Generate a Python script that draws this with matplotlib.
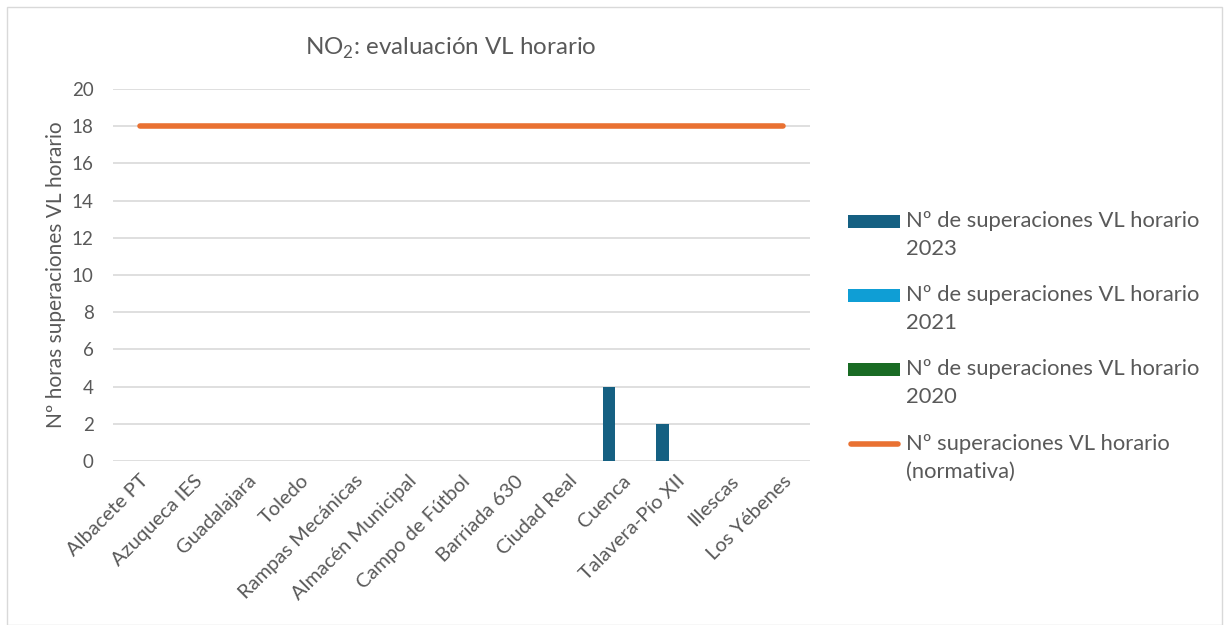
import matplotlib
matplotlib.use("Agg")
import matplotlib.pyplot as plt
from matplotlib.patches import Patch, Rectangle
from matplotlib.lines import Line2D
from matplotlib.legend_handler import HandlerBase
import numpy as np

plt.rcParams["font.family"] = ["Lato", "DejaVu Sans"]
plt.rcParams["mathtext.fontset"] = "custom"
plt.rcParams["mathtext.rm"] = "Lato"

stations = [
    "Albacete PT", "Azuqueca IES", "Guadalajara", "Toledo",
    "Rampas Mecánicas", "Almacén Municipal", "Campo de Fútbol",
    "Barriada 630", "Ciudad Real", "Cuenca", "Talavera-Pío XII",
    "Illescas", "Los Yébenes",
]
exc_2023 = [0, 0, 0, 0, 0, 0, 0, 0, 0, 4, 2, 0, 0]
exc_2021 = [0, 0, 0, 0, 0, 0, 0, 0, 0, 0, 0, 0, 0]
exc_2020 = [0, 0, 0, 0, 0, 0, 0, 0, 0, 0, 0, 0, 0]
limit = [18] * 13

labels = [
    "Nº de superaciones VL horario\n2023",
    "Nº de superaciones VL horario\n2021",
    "Nº de superaciones VL horario\n2020",
    "Nº superaciones VL horario\n(normativa)",
]
colors = ["#156082", "#0F9ED5", "#196B24"]
orange = "#E97132"
text_col = "#595959"
grid_col = "#D9D9D9"


class FirstLineHandler(HandlerBase):
    # put the legend key next to the first text line, like Excel does
    shift = 10.0

    def create_artists(self, legend, orig_handle, xdescent, ydescent,
                       width, height, fontsize, trans):
        yc = height / 2 - ydescent + self.shift
        if isinstance(orig_handle, Line2D):
            ln = Line2D([-xdescent + 2, -xdescent + width - 2], [yc, yc],
                        color=orig_handle.get_color(), lw=orig_handle.get_linewidth(),
                        solid_capstyle="round", transform=trans)
            return [ln]
        h = 9.5
        r = Rectangle((-xdescent, yc - h / 2), width, h,
                      facecolor=orig_handle.get_facecolor(), edgecolor="none",
                      transform=trans)
        return [r]


fig = plt.figure(figsize=(12.29, 6.25), dpi=100)
ax = fig.add_axes([113 / 1229, 1 - 461 / 625, 697 / 1229, 372 / 625])

x = np.arange(len(stations))
w = 0.23
for off, vals, c in zip([-0.25, 0, 0.25], [exc_2023, exc_2021, exc_2020], colors):
    ax.bar(x + off, vals, width=w, color=c, zorder=3)
ax.plot(x, limit, color=orange, lw=4, solid_capstyle="round", zorder=4)

ax.set_xlim(-0.5, len(stations) - 0.5)
ax.set_ylim(0, 20)
ax.set_yticks(range(0, 21, 2))
ax.yaxis.grid(True, color=grid_col, lw=1.2)
ax.set_axisbelow(True)
for s in ax.spines.values():
    s.set_visible(False)
ax.tick_params(length=0, colors=text_col, labelsize=13.5)
ax.tick_params(axis="y", pad=14)
ax.set_xticks(x)
ax.set_xticklabels(stations, rotation=45, ha="right", rotation_mode="anchor")
ax.tick_params(axis="x", pad=8, labelsize=14.5)
ax.set_ylabel("Nº horas superaciones VL horario", color=text_col, fontsize=15, labelpad=4)

fig.text(451 / 1229, 1 - 48 / 625, "NO$_2$: evaluación VL horario", ha="center", va="center",
         color=text_col, fontsize=17.4)

handles = [Patch(color=c) for c in colors] + [Line2D([0], [0], color=orange, lw=4)]
leg = fig.legend(handles, labels, loc="upper left", bbox_to_anchor=(828 / 1229, 1 - 191 / 625),
                 frameon=False, fontsize=15.8, labelcolor=text_col, handlelength=2.4,
                 handleheight=0.6, handletextpad=0.25, labelspacing=1.2,
                 handler_map={Patch: FirstLineHandler(), Line2D: FirstLineHandler()})
for t in leg.get_texts():
    t.set_linespacing(1.5)

fig.patches.append(Rectangle((7 / 1229, 0), 1215 / 1229, 1 - 7 / 625, transform=fig.transFigure,
                             fill=False, edgecolor="#D9D9D9", lw=1))

fig.savefig("out.png", dpi=100, facecolor="white")
